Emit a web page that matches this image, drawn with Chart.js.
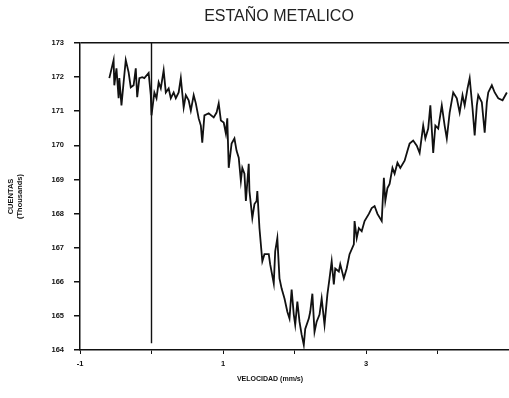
<!DOCTYPE html>
<html>
<head>
<meta charset="utf-8">
<script src="https://cdn.jsdelivr.net/npm/chart.js@4/dist/chart.umd.min.js"></script>
<style>
	html, body { margin: 0; padding: 0; background: #fff; }
	#wrap { width: 509px; height: 398px; }
</style>
</head>
<body>
<div id="wrap"><canvas id="mossbauerChart"></canvas></div>
<script>
// velocidad (mm/s) y cuentas (miles)
const velocidad = [
	-0.59, -0.53, -0.52, -0.49, -0.46, -0.45, -0.42, -0.39, -0.36, -0.32,
	-0.29, -0.25, -0.22, -0.20, -0.17, -0.13, -0.10, -0.04, -0.01, 0.00,
	0.04, 0.07, 0.10, 0.13, 0.17, 0.20, 0.24, 0.27, 0.31, 0.34,
	0.38, 0.41, 0.45, 0.48, 0.52, 0.55, 0.59, 0.62, 0.66, 0.69,
	0.71, 0.74, 0.80, 0.87, 0.91, 0.94, 0.97, 1.01, 1.04, 1.06,
	1.08, 1.12, 1.16, 1.19, 1.22, 1.25, 1.27, 1.30, 1.32, 1.36,
	1.37, 1.41, 1.44, 1.47, 1.48, 1.51, 1.55, 1.58, 1.64, 1.66,
	1.71, 1.73, 1.76, 1.79, 1.82, 1.86, 1.90, 1.93, 1.96, 1.99,
	2.01, 2.04, 2.07, 2.10, 2.13, 2.15, 2.20, 2.22, 2.25, 2.28,
	2.31, 2.35, 2.38, 2.42, 2.46, 2.49, 2.52, 2.55, 2.57, 2.62,
	2.64, 2.69, 2.73, 2.77, 2.83, 2.84, 2.87, 2.90, 2.94, 2.98,
	3.04, 3.08, 3.12, 3.16, 3.22, 3.25, 3.27, 3.30, 3.33, 3.37,
	3.40, 3.44, 3.48, 3.54, 3.58, 3.61, 3.66, 3.71, 3.75, 3.80,
	3.83, 3.87, 3.90, 3.94, 3.97, 4.01, 4.06, 4.10, 4.13, 4.17,
	4.22, 4.27, 4.31, 4.35, 4.38, 4.42, 4.45, 4.49, 4.52, 4.55,
	4.57, 4.62, 4.66, 4.69, 4.71, 4.76, 4.80, 4.85, 4.91, 4.97
];
const cuentas = [
	171.97, 172.50, 171.76, 172.26, 171.38, 171.97, 171.17, 171.85, 172.50, 172.14,
	171.70, 171.76, 172.26, 171.41, 171.97, 172.00, 171.97, 172.12, 171.47, 170.88,
	171.55, 171.38, 171.85, 171.67, 172.20, 171.55, 171.67, 171.38, 171.55, 171.38,
	171.55, 171.97, 171.11, 171.47, 171.32, 171.02, 171.47, 171.23, 170.79, 170.58,
	170.08, 170.88, 170.94, 170.82, 170.96, 171.23, 170.73, 170.67, 170.35, 170.79,
	169.34, 170.05, 170.20, 169.84, 169.64, 168.96, 169.34, 169.17, 168.37, 169.46,
	168.66, 167.87, 168.28, 168.37, 168.66, 167.57, 166.60, 166.81, 166.81, 166.51,
	165.95, 166.89, 167.28, 166.10, 165.80, 165.51, 165.12, 164.92, 165.77, 165.04,
	164.74, 165.42, 164.83, 164.45, 164.15, 164.62, 164.92, 165.12, 165.65, 164.53,
	164.83, 165.04, 165.51, 164.74, 165.63, 166.10, 166.60, 165.92, 166.39, 166.30,
	166.51, 166.10, 166.39, 166.81, 167.10, 167.78, 167.28, 167.57, 167.48, 167.78,
	167.99, 168.16, 168.22, 167.99, 167.78, 169.05, 168.37, 168.75, 168.87, 169.34,
	169.17, 169.49, 169.34, 169.55, 169.84, 170.05, 170.14, 169.99, 169.78, 170.58,
	170.20, 170.49, 171.17, 169.78, 170.58, 170.49, 171.17, 170.58, 170.20, 170.96,
	171.55, 171.38, 170.96, 171.47, 171.17, 171.67, 171.97, 171.08, 170.29, 171.17,
	171.47, 171.26, 170.37, 171.26, 171.55, 171.76, 171.55, 171.38, 171.32, 171.55
];

// linea vertical de referencia en v = 0
const marcaX = [0, 0];
const marcaY = [173, 164.2];

const etiquetasX = [-1, 1, 3];

const fontTick = { family: 'Liberation Sans', size: 7.5, weight: 'bold' };

// titulo y etiqueta del eje x, desplazados como en el original
const textosPlugin = {
	id: 'textos',
	afterDraw(chart) {
		const ctx = chart.ctx;
		ctx.save();
		ctx.fillStyle = '#222';
		ctx.textAlign = 'center';
		ctx.textBaseline = 'middle';
		ctx.font = '16px "Liberation Sans"';
		ctx.fillText('ESTAÑO METALICO', 279, 17);
		ctx.fillStyle = '#111';
		ctx.font = 'bold 7px "Liberation Sans"';
		ctx.fillText('VELOCIDAD (mm/s)', 270, 379);
		ctx.restore();
	}
};

const puntos = velocidad.map((v, i) => ({ x: v, y: cuentas[i] }));
const marca = marcaX.map((v, i) => ({ x: v, y: marcaY[i] }));

new Chart(document.getElementById('mossbauerChart').getContext('2d'), {
	type: 'line',
	data: {
		datasets: [{
			data: puntos,
			borderColor: '#111',
			borderWidth: 1.8,
			pointRadius: 0,
			tension: 0
		}, {
			data: marca,
			borderColor: '#111',
			borderWidth: 1.4,
			pointRadius: 0
		}]
	},
	options: {
		responsive: true,
		maintainAspectRatio: false,
		animation: false,
		layout: {
			padding: { top: 43, right: 0, left: 0, bottom: 0 }
		},
		plugins: {
			legend: { display: false },
			tooltip: { enabled: false }
		},
		scales: {
			x: {
				type: 'linear',
				min: -1,
				max: 5,
				afterFit: s => {
					s.height = 48;
					s.paddingLeft = 0;
					s.paddingRight = 0;
				},
				border: { color: '#111', width: 1.5 },
				grid: {
					drawOnChartArea: false,
					tickLength: 4,
					tickColor: '#111'
				},
				ticks: {
					stepSize: 1,
					color: '#111',
					font: fontTick,
					padding: 5,
					maxRotation: 0,
					callback: v => etiquetasX.includes(v) ? v : ''
				}
			},
			y: {
				min: 164,
				max: 173,
				afterFit: s => { s.width = 80; },
				border: { color: '#111', width: 1.5 },
				grid: {
					color: c => c.tick && c.tick.value === 173 ? '#111' : 'rgba(0,0,0,0)',
					lineWidth: 1.5,
					tickLength: 6,
					tickColor: '#111'
				},
				ticks: {
					stepSize: 1,
					color: '#111',
					font: fontTick,
					padding: 10
				},
				title: {
					display: true,
					text: ['CUENTAS', '(Thousands)'],
					color: '#111',
					font: fontTick,
					padding: { top: 6, bottom: 0 }
				}
			}
		}
	},
	plugins: [textosPlugin]
});
</script>
</body>
</html>
